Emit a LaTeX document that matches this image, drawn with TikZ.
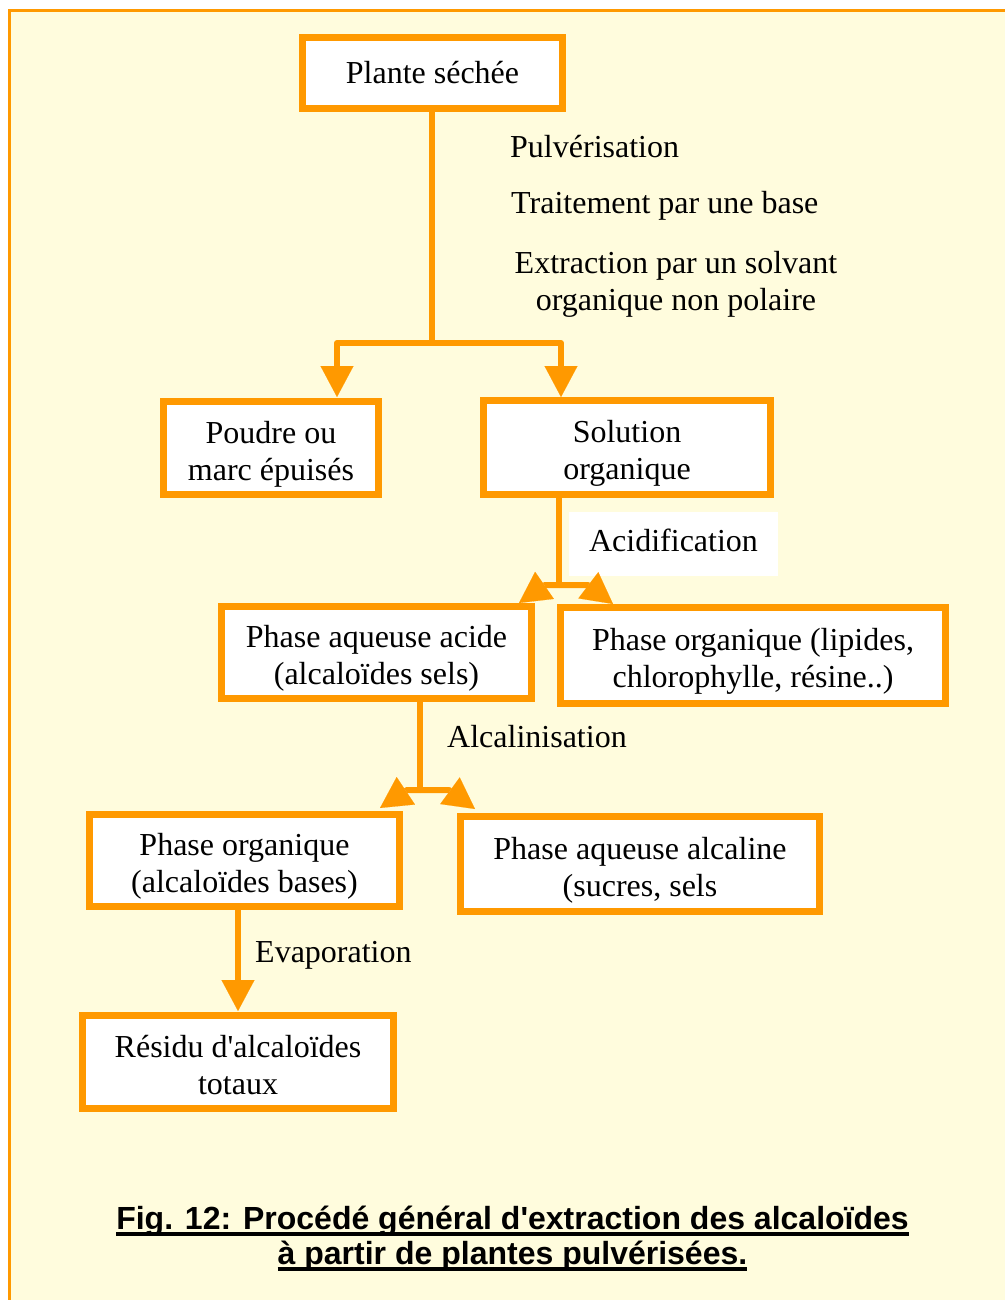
\documentclass[tikz,border=0pt]{standalone}
\usepackage{fontspec}
\setmainfont{Liberation Serif}
\newfontfamily\capfont{Liberation Sans}
\usetikzlibrary{arrows.meta}
\definecolor{flowor}{RGB}{255,153,0}
\definecolor{cream}{RGB}{255,252,221}
% a taller first line lowers a two-line text block inside its frame
\newcommand\lowstrut[1][34pt]{\rule{0pt}{#1}}

\begin{document}
\begin{tikzpicture}[x=1pt,y=-1pt,
  box/.style={draw=flowor, line width=7pt, fill=white, align=center,
              inner sep=0pt, font=\fontsize{32}{37}\selectfont},
  flow/.style={draw=flowor, line width=6pt, line join=round},
  tip/.style={-{Triangle[length=31pt,width=33pt,line width=0.1pt]}},
  lbl/.style={inner sep=0pt, font=\fontsize{32}{37}\selectfont, align=center},
  captxt/.style={inner sep=0pt, font=\capfont\bfseries\fontsize{32}{37}\selectfont}]

\useasboundingbox (0,0) rectangle (1005,1300);

% page background with its frame
\fill[cream] (8,9) rectangle (1005,1300);
\draw[flowor, line width=3pt] (9.5,1300) -- (9.5,10.5) -- (1005,10.5);

% process steps
\node[box, minimum width=260pt, minimum height=71pt] (plante) at (432.5,73) {Plante séchée};
\node[box, minimum width=215pt, minimum height=93pt] (poudre) at (271,448) {\lowstrut Poudre ou\\marc épuisés};
\node[box, minimum width=287pt, minimum height=94pt] (solution) at (627,447.5) {\lowstrut Solution\\organique};
\node[box, minimum width=310pt, minimum height=92pt] (aqacide) at (376.5,652.5) {\lowstrut Phase aqueuse acide\\(alcaloïdes sels)};
\node[box, minimum width=385pt, minimum height=96pt] (orglip) at (753,655.5) {\lowstrut Phase organique (lipides,\\chlorophylle, résine..)};
\node[box, minimum width=310pt, minimum height=92pt] (orgbase) at (244.5,860.5) {\lowstrut Phase organique\\(alcaloïdes bases)};
\node[box, minimum width=359pt, minimum height=95pt] (aqalc) at (640,864) {\lowstrut Phase aqueuse alcaline\\(sucres, sels};
\node[box, minimum width=311pt, minimum height=93pt] (residu) at (238,1062) {\lowstrut[28pt]Résidu d\textquotesingle alcaloïdes\\totaux};

% operation labels
\node[lbl, anchor=west] (pulv) at (510,147) {Pulvérisation};
\node[lbl, anchor=west] (trait) at (511,206) {Traitement par une base};
\node[lbl] (extr) at (676,284) {Extraction par un solvant\\organique non polaire};
\node[lbl, fill=white, text depth=8pt, minimum width=209pt, minimum height=64pt] (acid) at (673.5,544) {Acidification};
\node[lbl, anchor=west] (alcal) at (447,737) {Alcalinisation};
\node[lbl, anchor=west] (evap) at (255,955) {Evaporation};

% junction points and arrow ends
\coordinate (split) at (432,343);
\coordinate (poudreIn) at (337,397);
\coordinate (solIn) at (561,397);
\coordinate (acidJ) at (559,585);
\coordinate (acidL) at (545,585);
\coordinate (acidLtip) at (519,603);
\coordinate (acidR) at (588,585);
\coordinate (acidRtip) at (613,604);
\coordinate (alcJ) at (420,790);
\coordinate (alcL) at (407,790);
\coordinate (alcLtip) at (380,808);
\coordinate (alcR) at (449,790);
\coordinate (alcRtip) at (475,809);
\coordinate (evapCol) at (238,1011);

% connectors
\draw[flow] (plante.south -| split) -- (split);
\draw[flow, tip] (split) -| (poudreIn);
\draw[flow, tip] (split) -| (solIn);

\draw[flow] (solution.south -| acidJ) -- (acidJ);
\draw[flow, tip] (acidJ) -- (acidL) -- (acidLtip);
\draw[flow, tip] (acidJ) -- (acidR) -- (acidRtip);

\draw[flow] (aqacide.south -| alcJ) -- (alcJ);
\draw[flow, tip] (alcJ) -- (alcL) -- (alcLtip);
\draw[flow, tip] (alcJ) -- (alcR) -- (alcRtip);

\draw[flow, tip] (orgbase.south -| evapCol) -- (evapCol);

% caption
\node[captxt, anchor=base] (cap1) at (512.5,1229) {Fig. 12: Procédé général d'extraction des alcaloïdes};
\node[captxt, anchor=base] (cap2) at (512.5,1264) {à partir de plantes pulvérisées.};
\draw[line width=3.5pt] ([yshift=-5pt]cap1.base west) -- ([yshift=-5pt]cap1.base east);
\draw[line width=3.5pt] ([yshift=-5pt]cap2.base west) -- ([yshift=-5pt]cap2.base east);
\end{tikzpicture}
\end{document}
